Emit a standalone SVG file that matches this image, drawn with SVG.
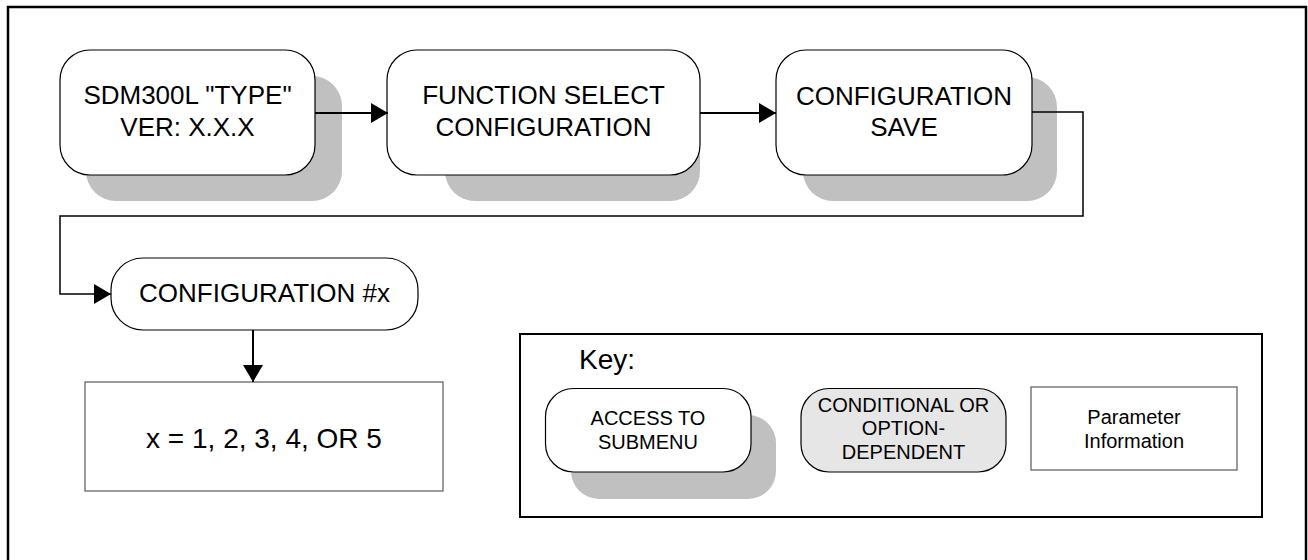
<svg xmlns="http://www.w3.org/2000/svg" width="1308" height="560" viewBox="0 0 1308 560">
<defs>
<style>
text{font-family:"Liberation Sans",Arial,sans-serif;fill:#000;text-anchor:middle}
.big{font-size:26px}
.small{font-size:20px}
.node{fill:#fff;stroke:#000;stroke-width:1.2}
.shadow{fill:#c0c0c0;stroke:none}
.cond{fill:#e6e6e6;stroke:#000;stroke-width:1.2}
.box{fill:#fff;stroke:#666;stroke-width:1.3}
.conn{fill:none;stroke:#000;stroke-width:2}
.conn2{fill:none;stroke:#000;stroke-width:1.5}
.frame{fill:none;stroke:#000;stroke-width:2.5}
</style>
<marker id="arr" viewBox="0 0 17 20" refX="17" refY="10" markerWidth="17" markerHeight="20" markerUnits="userSpaceOnUse" orient="auto">
<path d="M0,0 L17,10 L0,20 z" fill="#000"/>
</marker>
</defs>
<rect x="0" y="0" width="1308" height="560" fill="#fff"/>
<path class="frame" d="M8,562 V7 H1306 V562"/>

<g id="n1">
<rect class="shadow" x="86" y="76" width="256" height="125" rx="30"/>
<rect class="node" x="60" y="50" width="255" height="125" rx="30"/>
<text class="big" x="187.5" y="104">SDM300L "TYPE"</text>
<text class="big" x="187.5" y="135.5">VER: X.X.X</text>
</g>

<g id="n2">
<rect class="shadow" x="445" y="76" width="255" height="125" rx="30"/>
<rect class="node" x="387" y="50" width="313" height="125" rx="30"/>
<text class="big" x="543.5" y="104">FUNCTION SELECT</text>
<text class="big" x="543.5" y="135.5">CONFIGURATION</text>
</g>

<g id="n3">
<rect class="shadow" x="803" y="77" width="254" height="124" rx="30"/>
<rect class="node" x="776" y="50" width="256" height="125" rx="30"/>
<text class="big" x="904" y="105">CONFIGURATION</text>
<text class="big" x="904" y="136">SAVE</text>
</g>

<g id="n4">
<rect class="node" x="111" y="258" width="307" height="72" rx="32"/>
<text class="big" x="264.5" y="302">CONFIGURATION #x</text>
</g>

<g id="n5">
<rect class="box" x="85" y="382" width="358" height="109"/>
<text x="264" y="448" style="font-size:28px">x = 1, 2, 3, 4, OR 5</text>
</g>

<g id="key">
<rect x="520" y="334" width="742" height="183" fill="none" stroke="#000" stroke-width="2"/>
<text x="579" y="369" style="font-size:28px;text-anchor:start">Key:</text>
<g id="keyA">
<rect class="shadow" x="571" y="415" width="205" height="84" rx="28"/>
<rect class="node" x="545.5" y="388.5" width="205.5" height="83.5" rx="28"/>
<text class="small" x="648" y="425">ACCESS TO</text>
<text class="small" x="648" y="448.5">SUBMENU</text>
</g>
<g id="keyB">
<rect class="cond" x="801" y="388.5" width="205" height="83.5" rx="28"/>
<text class="small" x="903.5" y="411.5">CONDITIONAL OR</text>
<text class="small" x="903.5" y="435">OPTION-</text>
<text class="small" x="903.5" y="459">DEPENDENT</text>
</g>
<g id="keyC">
<rect class="box" x="1031" y="387" width="206" height="83"/>
<text class="small" x="1134" y="423.5">Parameter</text>
<text class="small" x="1134" y="447.5">Information</text>
</g>
</g>

<g id="connectors">
<path class="conn" d="M315,113 H388" marker-end="url(#arr)"/>
<path class="conn" d="M700,113 H776" marker-end="url(#arr)"/>
<path class="conn2" d="M1032,112 H1083 V216 H60 V294 H111" marker-end="url(#arr)"/>
<path class="conn" d="M253,330 V382" marker-end="url(#arr)"/>
</g>
</svg>
